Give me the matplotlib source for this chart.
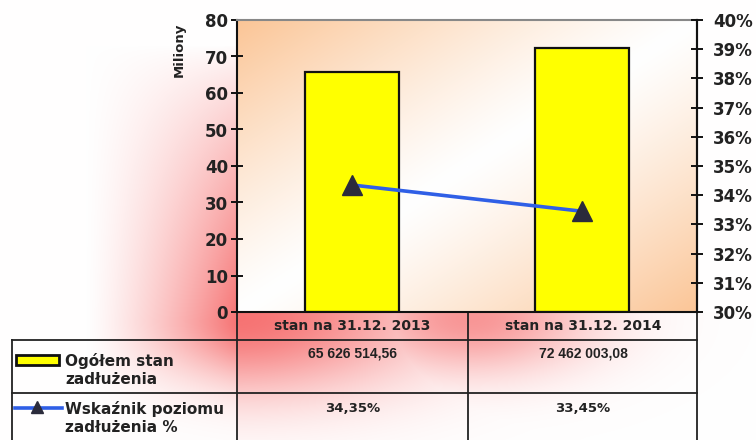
import numpy as np
import matplotlib
matplotlib.use("Agg")
import matplotlib.pyplot as plt
from matplotlib.patches import Rectangle
from matplotlib.lines import Line2D

plt.rcParams['font.family'] = ['DejaVu Sans']
plt.rcParams['font.weight'] = 'bold'

# ---- data ----
categories = ["stan na 31.12. 2013", "stan na 31.12. 2014"]
debt_mln = [65.626514, 72.462003]
debt_labels = ["65 626 514,56", "72 462 003,08"]
ratio_pct = [34.35, 33.45]
ratio_labels = ["34,35%", "33,45%"]
series_names = ["Ogółem stan\nzadłużenia", "Wskaźnik poziomu\nzadłużenia %"]
left_ticks = list(range(0, 81, 10))
right_ticks = list(range(30, 41, 1))

W, H = 756, 440
fig = plt.figure(figsize=(W / 100, H / 100), dpi=100)

# plot area in pixels
PL, PR, PT, PB = 237, 697, 20, 312

# ---- background image (pixel space) ----
yy, xx = np.mgrid[0:H, 0:W].astype(float)
sx = np.clip((xx - 85) / 152.0, 0, 1) ** 1.3
sy_up = np.clip((yy - 45) / 275.0, 0, 1) ** 0.8
sy_dn = np.exp(-((yy - 320) / 60.0) ** 2)
sy = np.where(yy <= 320, sy_up, sy_dn)
s_left = sx * sy
g1 = np.exp(-((xx - 237) / 190.0) ** 2) * np.exp(-((yy - 318) / 75.0) ** 2)
g2 = 0.75 * np.exp(-((xx - 470) / 120.0) ** 2) * np.exp(-((yy - 318) / 55.0) ** 2)
s_tab = np.maximum(g1, g2)
s = np.where(xx < PL, s_left, np.where(yy >= PB, s_tab, 0.0))
s = np.clip(s, 0, 1)
red = np.array([246, 112, 112]) / 255.0
white = np.ones(3)
img = white[None, None, :] * (1 - s[..., None]) + red[None, None, :] * s[..., None]
img = img * 0.97 + 0.03 * np.array([1.0, 0.92, 0.92])
inside = (xx >= PL) & (xx <= PR) & (yy >= PT) & (yy <= PB)
xn = (xx - PL) / (PR - PL)
yn = (yy - PT) / (PB - PT)
t = np.abs((xn + yn) - 1.0)
o = np.clip(t, 0, 1) ** 1.2
orange = np.array([251, 197, 150]) / 255.0
pimg = white[None, None, :] * (1 - o[..., None]) + orange[None, None, :] * o[..., None]
img[inside] = pimg[inside]

bg = fig.add_axes([0, 0, 1, 1], zorder=-10)
bg.imshow(img, extent=[0, W, H, 0], aspect='auto', interpolation='bilinear')
bg.set_xlim(0, W)
bg.set_ylim(H, 0)
bg.axis('off')

# ---- main axes ----
ax = fig.add_axes([PL / W, 1 - PB / H, (PR - PL) / W, (PB - PT) / H])
ax.patch.set_alpha(0)
x = np.arange(len(categories))
ax.bar(x, debt_mln, width=0.41, color='#ffff00', edgecolor='#111111', linewidth=1.6, zorder=2)
ax.set_xlim(-0.5, 1.5)
ax.set_ylim(0, 80)
ax.set_yticks(left_ticks)
ax.set_xticks([])
ax.tick_params(axis='y', direction='inout', length=9, width=1.4, colors='#111111',
               labelsize=12, pad=2, labelcolor='#222222')
for lab in ax.get_yticklabels():
    lab.set_fontweight('bold')
ax.spines['top'].set_color('#888888')
ax.spines['top'].set_linewidth(1.5)
for sp in ['left', 'right', 'bottom']:
    ax.spines[sp].set_color('#111111')
    ax.spines[sp].set_linewidth(1.5)

ax2 = ax.twinx()
ax2.patch.set_alpha(0)
ax2.plot(x, ratio_pct, color='#2f5fe6', linewidth=2.6, marker='^', markersize=15,
         markerfacecolor='#2b2b3b', markeredgecolor='#2b2b3b', zorder=3)
ax2.set_ylim(30, 40)
ax2.set_yticks(right_ticks)
ax2.set_yticklabels([f"{v}%" for v in right_ticks])
ax2.tick_params(axis='y', direction='inout', length=9, width=1.4, colors='#111111',
                labelsize=12, pad=7, labelcolor='#222222')
for lab in ax2.get_yticklabels():
    lab.set_fontweight('bold')
for sp in ['left', 'top', 'bottom']:
    ax2.spines[sp].set_visible(False)
ax2.spines['right'].set_color('#111111')
ax2.spines['right'].set_linewidth(1.5)

fig.text(179 / W, 1 - 50 / H, "Miliony", rotation=90, ha='center', va='center',
         fontsize=9.5, fontweight='bold', color='#222222')

# ---- data table (drawn in pixel coords on bg axes) ----
lc = '#222222'
lw = 1.3
col_x = [PL, 468, PR]
bg.plot([PL, PR], [PB, PB], color=lc, lw=lw)
bg.plot([12, PR], [340, 340], color=lc, lw=lw)
bg.plot([12, PR], [393, 393], color=lc, lw=lw)
for cx in col_x:
    bg.plot([cx, cx], [PB, H], color=lc, lw=lw)
bg.plot([12, 12], [340, H], color=lc, lw=lw)

centers = [352.5, 583]
for i in range(len(categories)):
    bg.text(centers[i], 326, categories[i], ha='center', va='center', fontsize=10,
            fontweight='bold', color='#222222')
    bg.text(centers[i], 353, debt_labels[i], ha='center', va='center', fontsize=10,
            fontweight='bold', color='#222222', family='Liberation Sans')
    bg.text(centers[i], 409, ratio_labels[i], ha='center', va='center', fontsize=9.5,
            fontweight='bold', color='#222222')

# legend keys
bg.add_patch(Rectangle((16, 355), 43, 10, facecolor='#ffff00', edgecolor='#111111', lw=2))
bg.add_line(Line2D([15, 62], [408, 408], color='#2f5fe6', lw=2.6))
bg.plot([37], [407], marker='^', markersize=9, color='#2b2b3b')
bg.text(65, 370, series_names[0], ha='left', va='center', fontsize=11,
        fontweight='bold', color='#222222', linespacing=1.3)
bg.text(65, 418, series_names[1], ha='left', va='center', fontsize=11,
        fontweight='bold', color='#222222', linespacing=1.3)

fig.savefig("out.png", dpi=100)
